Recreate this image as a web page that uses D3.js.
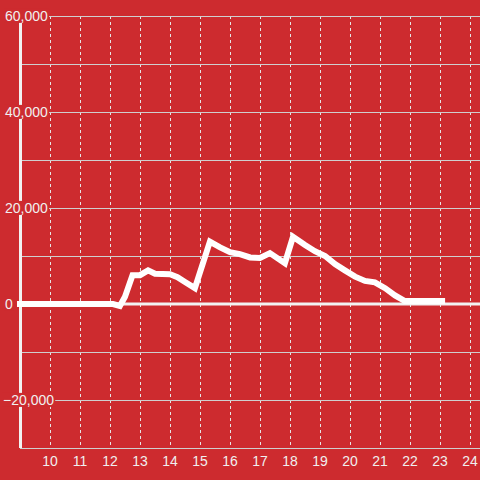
<!DOCTYPE html>
<html><head><meta charset="utf-8">
<script src="https://cdn.jsdelivr.net/npm/d3@7"></script>
<style>html,body{margin:0;padding:0;background:#cd2b2f;}svg{display:block;}</style>
</head><body>
<svg id="c" width="480" height="480"></svg>
<script>
const hours = [8.9, 12.1, 12.33, 12.5, 12.75, 13.0, 13.27, 13.5, 14.0, 14.25, 14.5, 14.83, 15.33, 15.67, 16.0, 16.33, 16.67, 17.0, 17.33, 17.83, 18.1, 18.5, 18.83, 19.17, 19.5, 19.83, 20.17, 20.5, 20.83, 21.17, 21.5, 21.83, 23.17];
const values = [0, 0, -400, 1500, 6000, 6000, 7000, 6300, 6200, 5600, 4600, 3300, 13000, 11800, 10800, 10400, 9700, 9600, 10600, 8500, 14000, 12300, 11000, 10000, 8300, 7000, 5700, 4800, 4500, 3300, 1800, 600, 600];
const xTicks = [10, 11, 12, 13, 14, 15, 16, 17, 18, 19, 20, 21, 22, 23, 24];
const yGrid = [-30000, -20000, -10000, 0, 10000, 20000, 30000, 40000, 50000, 60000];
const yLabels = [-20000, 0, 20000, 40000, 60000];

const svg = d3.select("#c");
const x = d3.scaleLinear().domain([9, 24 + 1/3]).range([20, 480]);
const y = d3.scaleLinear().domain([-30000, 60000]).range([448, 16]);
const fmt = d3.format(",");

// vertical dashed grid
svg.append("g").selectAll("line").data(xTicks).join("line")
  .attr("x1", d => x(d)).attr("x2", d => x(d))
  .attr("y1", y(60000)).attr("y2", y(-30000))
  .attr("stroke", "#e6e6e6").attr("stroke-width", 1).attr("stroke-dasharray", "3,3")
  .attr("shape-rendering", "crispEdges");

// horizontal grid
svg.append("g").selectAll("line").data(yGrid.filter(d => d !== 0)).join("line")
  .attr("x1", 20).attr("x2", 480)
  .attr("y1", d => y(d)).attr("y2", d => y(d))
  .attr("stroke", "#cfcfcf").attr("stroke-width", 1)
  .attr("shape-rendering", "crispEdges");

// zero line
svg.append("line").attr("x1", 20).attr("x2", 480).attr("y1", y(0)).attr("y2", y(0))
  .attr("stroke", "#f2f2f2").attr("stroke-width", 3);

// left axis line
svg.append("line").attr("x1", 20.5).attr("x2", 20.5).attr("y1", y(60000)).attr("y2", y(-30000))
  .attr("stroke", "#f2f2f2").attr("stroke-width", 3);

// data line
const pts = hours.map((h, i) => [h, values[i]]);
svg.append("path").datum(pts)
  .attr("d", d3.line().x(d => x(d[0])).y(d => y(d[1])))
  .attr("fill", "none").attr("stroke", "#ffffff").attr("stroke-width", 6)
  .attr("stroke-linejoin", "miter");

// y labels with background
const yl = svg.append("g");
yLabels.forEach(v => {
  const t = yl.append("text").attr("x", v < 0 ? 3 : 5).attr("y", y(v)).attr("dy", "0.35em")
    .attr("text-anchor", "start").attr("font-family", "Liberation Sans, Arial, sans-serif")
    .attr("font-size", 14).attr("fill", "#f0f0f0").text(fmt(v));
  const bb = t.node().getBBox();
  yl.insert("rect", "text").attr("x", bb.x - 1).attr("y", bb.y + 1).attr("width", bb.width + 2).attr("height", bb.height - 2)
    .attr("fill", "#cd2b2f");
});

// x labels
svg.append("g").selectAll("text").data(xTicks).join("text")
  .attr("x", d => x(d)).attr("y", 466).attr("text-anchor", "middle")
  .attr("font-family", "Liberation Sans, Arial, sans-serif").attr("font-size", 14)
  .attr("fill", "#f0f0f0").text(d => d);
</script>
</body></html>
